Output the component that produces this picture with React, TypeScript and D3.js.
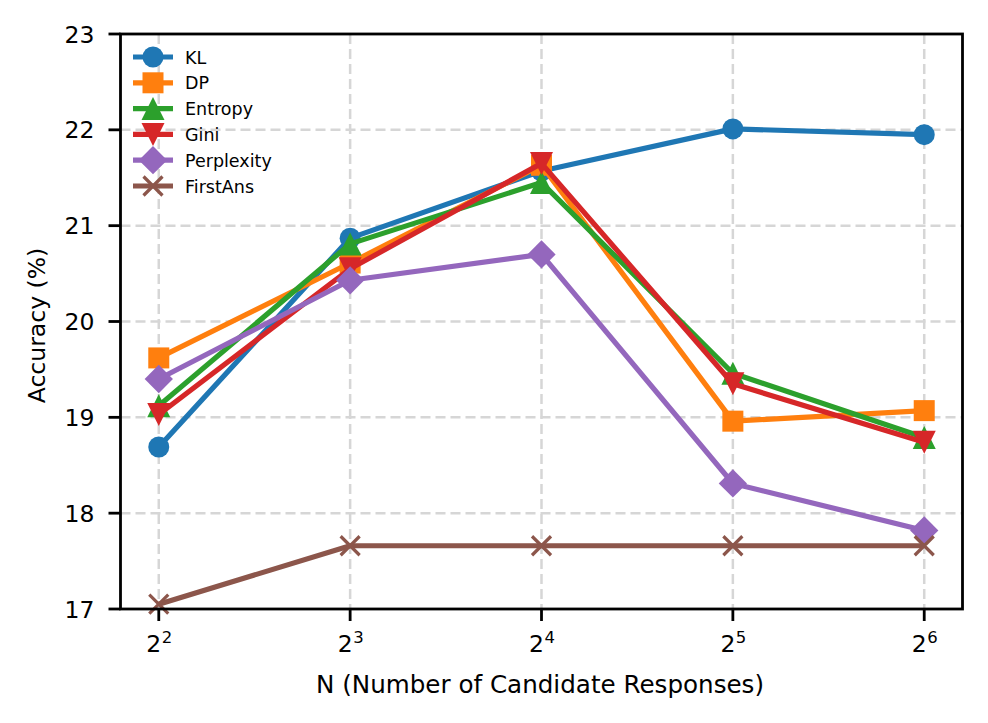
import React from 'react';
import { scaleLog, scaleLinear, line, symbol, symbolCircle, symbolSquare } from 'd3';

const nValues = [4, 8, 16, 32, 64];
const exponents = ['2', '3', '4', '5', '6'];
const yTicks = [17, 18, 19, 20, 21, 22, 23];

const klValues = [18.69, 20.87, 21.57, 22.01, 21.95];
const dpValues = [19.62, 20.61, 21.63, 18.96, 19.07];
const entropyValues = [19.12, 20.81, 21.45, 19.46, 18.79];
const giniValues = [19.03, 20.55, 21.65, 19.35, 18.74];
const perplexityValues = [19.40, 20.43, 20.70, 18.31, 17.82];
const firstAnsValues = [17.05, 17.66, 17.66, 17.66, 17.66];

const series = [
    { name: 'KL', values: klValues, color: '#1f77b4', marker: 'circle' },
    { name: 'DP', values: dpValues, color: '#ff7f0e', marker: 'square' },
    { name: 'Entropy', values: entropyValues, color: '#2ca02c', marker: 'triangle' },
    { name: 'Gini', values: giniValues, color: '#d62728', marker: 'triangleDown' },
    { name: 'Perplexity', values: perplexityValues, color: '#9467bd', marker: 'diamond' },
    { name: 'FirstAns', values: firstAnsValues, color: '#8c564b', marker: 'x' },
];

const font = 'DejaVu Sans, sans-serif';
const ms = 21; // marker size in px

function Marker(props: { kind: string, x: number, y: number, color: string }) {
    const { kind, x, y, color } = props;
    const h = ms / 2;
    if (kind === 'x') {
        const r = 9.5;
        return <path d={`M${x - r},${y - r}L${x + r},${y + r}M${x - r},${y + r}L${x + r},${y - r}`} stroke={color} strokeWidth={3.2} fill='none' />;
    }
    const t = 11.5; // triangles a little wider
    if (kind === 'triangle') return <path d={`M${x},${y - t}L${x + t},${y + t}L${x - t},${y + t}Z`} fill={color} />;
    if (kind === 'triangleDown') return <path d={`M${x},${y + t}L${x + t},${y - t}L${x - t},${y - t}Z`} fill={color} />;
    let d = '';
    let transform = `translate(${x},${y})`;
    if (kind === 'circle') d = symbol(symbolCircle, Math.PI * h * h)() as string;
    if (kind === 'square') d = symbol(symbolSquare, ms * ms)() as string;
    if (kind === 'diamond') { d = symbol(symbolSquare, 400)() as string; transform += ' rotate(45)'; }
    return <path d={d} transform={transform} fill={color} />;
}

const App = () => {
    const svgWidth = 988;
    const svgHeight = 723;
    const left = 120.5, right = 962.5, top = 34, bottom = 609;
    const fs = 23.5;

    const x = scaleLog().base(2).domain([Math.pow(2, 1.8), Math.pow(2, 6.2)]).range([left, right]);
    const y = scaleLinear().domain([17, 23]).range([bottom, top]);

    const linefunc = line<number>().x((d, i) => x(nValues[i])).y(d => y(d));

    return (
        <div style={{ position: 'absolute', left: 0, top: 0 }}>
            <svg width={svgWidth} height={svgHeight} style={{ fontFamily: font, background: 'white' }}>
                <rect x={0} y={0} width={svgWidth} height={svgHeight} fill='white' />
                <g>
                    {nValues.map(n => (
                        <line key={'gx' + n} x1={x(n)} x2={x(n)} y1={top} y2={bottom} stroke='#d6d6d6' strokeWidth={2.5} strokeDasharray='10,5' />
                    ))}
                    {yTicks.slice(1, -1).map(t => (
                        <line key={'gy' + t} x1={left} x2={right} y1={y(t)} y2={y(t)} stroke='#d6d6d6' strokeWidth={2.5} strokeDasharray='10,5' />
                    ))}
                </g>
                <g>
                    {series.map(s => (
                        <g key={s.name}>
                            <path d={linefunc(s.values) as string} fill='none' stroke={s.color} strokeWidth={5.2} strokeLinejoin='round' />
                            {s.values.map((v, i) => <Marker key={i} kind={s.marker} x={x(nValues[i])} y={y(v)} color={s.color} />)}
                        </g>
                    ))}
                </g>
                <rect x={left} y={top} width={right - left} height={bottom - top} fill='none' stroke='black' strokeWidth={2.8} />
                <g>
                    {nValues.map((n, i) => (
                        <g key={'tx' + n}>
                            <line x1={x(n)} x2={x(n)} y1={bottom} y2={bottom + 12} stroke='black' strokeWidth={2.8} />
                            <text x={x(n) - 5} y={652} fontSize={fs} textAnchor='middle'>2</text>
                            <text x={x(n) + 3} y={643} fontSize={16.5} textAnchor='start'>{exponents[i]}</text>
                        </g>
                    ))}
                    {yTicks.map(t => (
                        <g key={'ty' + t}>
                            <line x1={left - 12} x2={left} y1={y(t)} y2={y(t)} stroke='black' strokeWidth={2.8} />
                            <text x={left - 26} y={y(t) + 8.5} fontSize={fs} textAnchor='end'>{t}</text>
                        </g>
                    ))}
                </g>
                <text x={540} y={693} fontSize={24.6} textAnchor='middle'>N (Number of Candidate Responses)</text>
                <text transform={`translate(45,${(top + bottom) / 2 + 4}) rotate(-90)`} fontSize={fs} textAnchor='middle'>Accuracy (%)</text>
                <g>
                    {series.map((s, i) => {
                        const ly = 57 + i * 25.8;
                        return (
                            <g key={'lg' + s.name}>
                                <line x1={133} x2={173} y1={ly} y2={ly} stroke={s.color} strokeWidth={5.2} />
                                <Marker kind={s.marker} x={153} y={ly} color={s.color} />
                                <text x={185} y={ly + 6.5} fontSize={17.5}>{s.name}</text>
                            </g>
                        );
                    })}
                </g>
            </svg>
        </div>
    );
};

export default App;
